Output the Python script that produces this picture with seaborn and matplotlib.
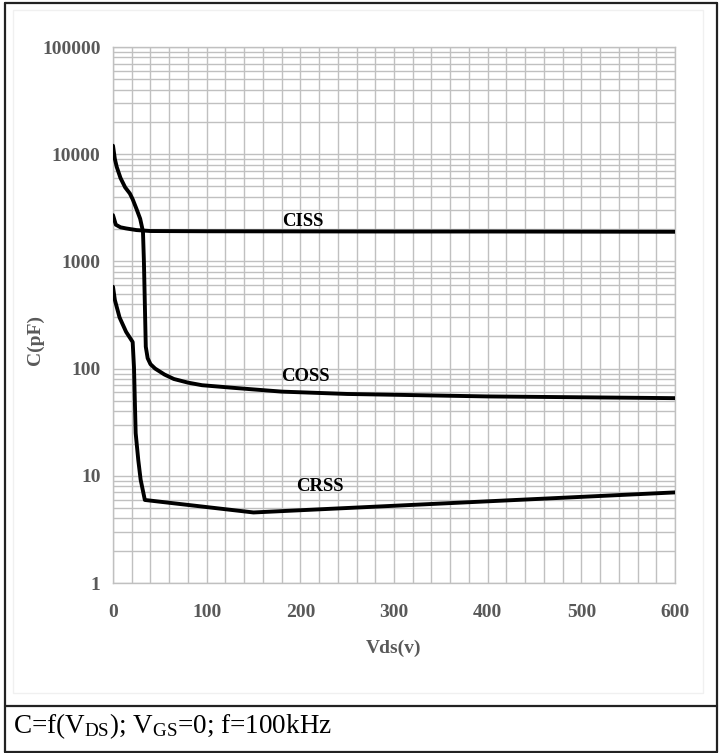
import matplotlib
matplotlib.use("Agg")
import matplotlib.pyplot as plt
import seaborn as sns
import pandas as pd
import numpy as np
from matplotlib.ticker import MultipleLocator, LogLocator, FixedLocator, NullFormatter
from matplotlib.patches import Rectangle
from matplotlib.lines import Line2D

# ---- data ----
ciss_v = [0, 3, 8, 14, 25, 40, 100, 200, 300, 400, 500, 600]
ciss_c = [2700, 2200, 2080, 2030, 1960, 1920, 1910, 1905, 1900, 1900, 1895, 1890]

coss_v = [0, 2, 4, 8, 13, 18, 21, 25, 29, 32, 33, 34, 35, 37, 40, 45, 55, 65, 80, 95, 130, 180, 250, 300, 400, 500, 600]
coss_c = [12000, 9000, 7600, 6000, 4900, 4300, 3800, 3100, 2500, 1900, 1000, 400, 160, 125, 110, 100, 88, 80, 74, 70, 66, 61, 58, 57, 55, 54, 53]

crss_v = [0, 2, 7, 14, 21, 22.4, 24.2, 27, 29.5, 34, 150, 600]
crss_c = [580, 436, 300, 220, 177, 103, 25, 14, 9.2, 5.95, 4.55, 7.0]

curve_labels = ["CISS", "COSS", "CRSS"]
label_v = [203, 205, 221]
label_c = [2380, 85, 7.9]

x_ticks = [0, 100, 200, 300, 400, 500, 600]
y_ticks = [1, 10, 100, 1000, 10000, 100000]
y_tick_labels = ["1", "10", "100", "1000", "10000", "100000"]

x_title = "Vds(v)"
y_title = "C(pF)"
caption = r"C=f(V$_{\mathrm{DS}}$); V$_{\mathrm{GS}}$=0; f=100kHz"

# ---- style ----
sns.set_theme(style="white")
plt.rcParams["font.family"] = ["Liberation Serif", "DejaVu Serif"]
plt.rcParams["mathtext.fontset"] = "custom"
plt.rcParams["mathtext.rm"] = "Liberation Serif"
plt.rcParams["mathtext.it"] = "Liberation Serif:italic"
plt.rcParams["mathtext.bf"] = "Liberation Serif:bold"

grid_col = "#c0c0c0"
tick_col = "#595959"

df = pd.concat([
    pd.DataFrame({"V": ciss_v, "C": ciss_c, "curve": "CISS"}),
    pd.DataFrame({"V": coss_v, "C": coss_c, "curve": "COSS"}),
    pd.DataFrame({"V": crss_v, "C": crss_c, "curve": "CRSS"}),
], ignore_index=True)

fig = plt.figure(figsize=(7.2, 7.53), dpi=100)
ax = fig.add_axes([113/720, 1-583/753, (675-113)/720, (583-47)/753])

sns.lineplot(data=df, x="V", y="C", hue="curve", units="curve", estimator=None,
             sort=False, palette={"CISS": "black", "COSS": "black", "CRSS": "black"},
             linewidth=2.8, legend=False, ax=ax, zorder=3)

ax.set_yscale("log")
ax.set_xlim(0, 600)
ax.set_ylim(1, 100000)

ax.xaxis.set_major_locator(FixedLocator(x_ticks))
ax.xaxis.set_minor_locator(MultipleLocator(20))
ax.yaxis.set_major_locator(FixedLocator(y_ticks))
ax.yaxis.set_minor_locator(LogLocator(base=10, subs=np.arange(2, 10)))
ax.yaxis.set_minor_formatter(NullFormatter())
ax.set_yticklabels(y_tick_labels)
ax.set_xticklabels([str(t) for t in x_ticks])

ax.grid(True, which="both", color=grid_col, linewidth=1.0)
ax.set_axisbelow(True)
for s in ax.spines.values():
    s.set_color(grid_col)
    s.set_linewidth(1.0)

ax.tick_params(axis="both", which="both", length=0)
ax.tick_params(axis="y", pad=9)
ax.tick_params(axis="x", pad=15)
for lab in ax.get_xticklabels() + ax.get_yticklabels():
    lab.set_fontsize(14)
    lab.set_fontweight("bold")
    lab.set_color(tick_col)

ax.set_xlabel("")
ax.set_ylabel("")

for name, v, c in zip(curve_labels, label_v, label_c):
    ax.text(v, c, name, ha="center", va="center", fontsize=13.5, fontweight="bold",
            color="black", zorder=4)

fig.text(394/720, 1-648/753, x_title, ha="center", va="center", fontsize=14,
         fontweight="bold", color=tick_col)
fig.text(35/720, 1-340/753, y_title, ha="center", va="center", fontsize=14,
         fontweight="bold", color=tick_col, rotation=90)

# faint chart-area panel
fig.patches.append(Rectangle((13/720, 1-693/753), (703-13)/720, (693-10)/753,
                             transform=fig.transFigure, fill=False,
                             edgecolor="#f0f0f0", linewidth=1.0, zorder=0))

# table frame
frame_col = "#222222"
for (x0, y0, x1, y1) in [(5, 3, 717, 3), (5, 3, 5, 752), (717, 3, 717, 752),
                         (5, 706, 717, 706), (5, 752, 717, 752)]:
    fig.add_artist(Line2D([x0/720, x1/720], [1-y0/753, 1-y1/753],
                          transform=fig.transFigure, color=frame_col, linewidth=1.6))

fig.text(13/720, 1-733/753, caption, ha="left", va="baseline", fontsize=19.5, color="black")

fig.savefig("out.png", dpi=100)
